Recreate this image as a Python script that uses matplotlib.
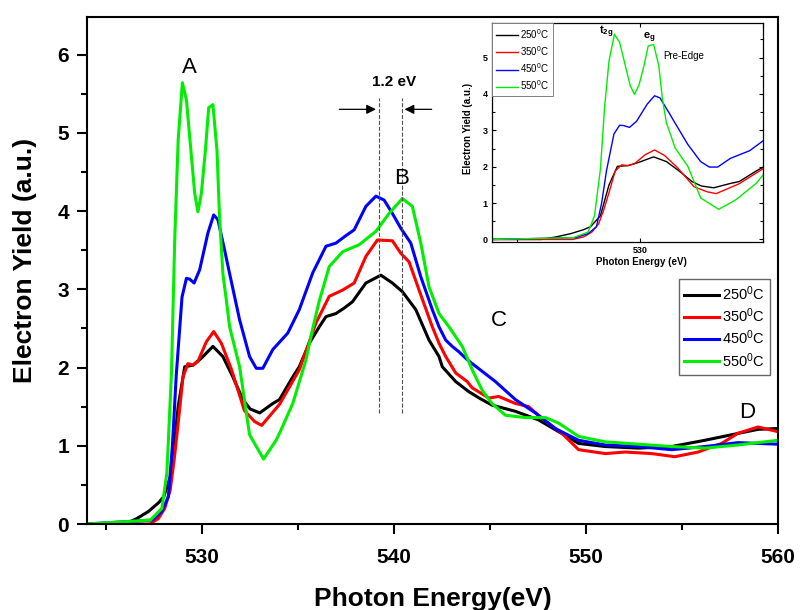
import matplotlib
matplotlib.use('Agg')
import matplotlib.pyplot as plt

plt.rcParams['font.family'] = ['Liberation Sans', 'DejaVu Sans']
plt.rcParams['mathtext.fontset'] = 'custom'
plt.rcParams['mathtext.rm'] = 'Liberation Sans'
plt.rcParams['mathtext.it'] = 'Liberation Sans:italic'
plt.rcParams['mathtext.bf'] = 'Liberation Sans:bold'

# spectra (photon energy in eV, electron yield in a.u.)
e250 = [524.0, 525.0, 526.0, 526.6, 527.2, 527.72, 528.0, 528.4, 528.75, 529.09, 529.52,
        529.96, 530.56, 531.08, 531.6, 532.12, 532.5, 533.0, 533.68, 534.03, 534.72,
        535.06, 535.58, 536.1, 536.45, 536.97, 537.4, 537.83, 538.53, 539.31, 539.91,
        540.43, 541.13, 541.82, 542.34, 542.51, 543.21, 543.9, 544.5, 545.1, 546.32,
        547.53, 548.57, 549.61, 551.0, 552.73, 554.46, 556.19, 557.57, 558.96, 560.0]
y250 = [0.0, 0.0, 0.0, 0.07, 0.16, 0.27, 0.35, 0.65, 1.50, 2.01, 2.03,
        2.12, 2.27, 2.14, 1.88, 1.59, 1.47, 1.42, 1.54, 1.59, 1.88,
        2.01, 2.31, 2.52, 2.65, 2.69, 2.76, 2.84, 3.08, 3.18, 3.08,
        2.97, 2.74, 2.35, 2.14, 2.01, 1.82, 1.69, 1.60, 1.52, 1.44,
        1.33, 1.18, 1.03, 0.99, 0.97, 0.99, 1.07, 1.14, 1.21, 1.22]

e350 = [524.0, 527.27, 527.72, 528.05, 528.33, 528.54, 528.75, 529.0, 529.26, 529.52,
        529.78, 530.22, 530.6, 531.0, 531.52, 532.2, 532.73, 533.1, 534.03, 535.06,
        535.93, 536.62, 537.32, 537.92, 538.53, 539.13, 539.91, 540.35, 540.78, 541.3,
        541.99, 542.34, 542.69, 543.21, 543.81, 544.07, 544.94, 545.45, 546.32, 547.01,
        547.7, 548.74, 549.61, 551.0, 552.04, 553.42, 554.63, 555.84, 557.06, 557.92,
        558.96, 560.0]
y350 = [0.0, 0.0, 0.07, 0.2, 0.43, 0.82, 1.29, 1.88, 2.05, 2.03,
        2.08, 2.33, 2.46, 2.31, 1.98, 1.45, 1.31, 1.26, 1.53, 1.97,
        2.57, 2.91, 2.99, 3.08, 3.42, 3.63, 3.62, 3.46, 3.35, 2.99,
        2.52, 2.31, 2.14, 1.93, 1.82, 1.74, 1.61, 1.63, 1.54, 1.50,
        1.35, 1.16, 0.95, 0.90, 0.92, 0.90, 0.86, 0.92, 1.03, 1.16,
        1.24, 1.18]

e450 = [524.0, 527.4, 527.9, 528.24, 528.45, 528.65, 528.83, 528.95, 529.18, 529.35,
        529.58, 529.87, 530.3, 530.6, 530.82, 531.17, 531.43, 531.95, 532.47, 532.82,
        533.16, 533.68, 534.46, 535.06, 535.76, 536.45, 536.97, 537.4, 537.92, 538.53,
        539.05, 539.48, 539.91, 540.35, 540.87, 541.39, 541.99, 542.34, 542.69, 543.03,
        543.38, 543.81, 544.07, 545.28, 546.32, 547.36, 548.4, 549.61, 551.0, 552.73,
        554.46, 556.19, 557.92, 560.0]
y450 = [0.0, 0.05, 0.16, 0.35, 1.0, 1.9, 2.5, 2.9, 3.14, 3.13,
        3.08, 3.25, 3.72, 3.95, 3.89, 3.50, 3.20, 2.61, 2.14, 1.99,
        1.99, 2.23, 2.44, 2.74, 3.21, 3.55, 3.59, 3.67, 3.76, 4.06,
        4.19, 4.14, 3.97, 3.78, 3.59, 3.16, 2.74, 2.52, 2.35, 2.27,
        2.20, 2.10, 2.05, 1.82, 1.59, 1.42, 1.22, 1.07, 1.01, 0.99,
        0.95, 0.99, 1.04, 1.02]

e550 = [524.0, 527.3, 527.9, 528.16, 528.24, 528.4, 528.57, 528.75, 528.97, 529.18,
        529.44, 529.61, 529.78, 529.96, 530.17, 530.34, 530.56, 530.77, 530.91, 531.08,
        531.26, 531.43, 531.95, 532.47, 533.2, 533.85, 534.03, 534.72, 535.41, 535.76,
        536.1, 536.62, 537.32, 538.18, 539.05, 539.74, 540.43, 540.95, 541.39, 541.82,
        542.34, 542.86, 543.55, 544.07, 544.59, 545.1, 545.8, 546.84, 547.88, 548.57,
        549.61, 551.0, 552.73, 554.46, 556.19, 557.92, 560.0]
y550 = [0.0, 0.05, 0.2, 0.65, 1.07, 1.93, 3.63, 4.91, 5.64, 5.42,
        4.70, 4.23, 3.99, 4.23, 4.78, 5.32, 5.36, 4.78, 3.90, 3.20,
        2.86, 2.52, 2.01, 1.14, 0.83, 1.07, 1.16, 1.54, 2.10, 2.50,
        2.85, 3.29, 3.48, 3.57, 3.74, 3.97, 4.16, 4.06, 3.59, 3.03,
        2.69, 2.52, 2.27, 1.97, 1.71, 1.54, 1.39, 1.36, 1.36, 1.29,
        1.12, 1.05, 1.02, 0.99, 0.97, 1.01, 1.07]

series = [(e250, y250, 'black', '250$^\\mathregular{0}$C'),
          (e350, y350, '#ff0000', '350$^\\mathregular{0}$C'),
          (e450, y450, '#0000ff', '450$^\\mathregular{0}$C'),
          (e550, y550, '#00ee00', '550$^\\mathregular{0}$C')]

peak_lines = [539.2, 540.4]
peak_labels = [('A', 529.35, 5.83), ('B', 540.4, 4.42), ('C', 545.45, 2.6), ('D', 558.4, 1.43)]

fig = plt.figure(figsize=(8, 6.1), dpi=100)
ax = fig.add_axes([87/800, 86/610, 691/800, 507/610])

for x, y, c, lab in series:
    ax.plot(x, y, color=c, lw=2.2, label=lab)

ax.set_xlim(524, 560)
ax.set_ylim(0, 6.48)
ax.set_xticks([530, 540, 550, 560])
ax.set_xticks([525, 535, 545, 555], minor=True)
ax.set_yticks([0, 1, 2, 3, 4, 5, 6])
ax.set_yticks([0.5, 1.5, 2.5, 3.5, 4.5, 5.5], minor=True)
ax.tick_params(which='major', direction='out', length=7, width=1.5, labelsize=15)
ax.tick_params(which='minor', direction='out', length=4.5, width=1.5)
ax.tick_params(axis='x', which='major', pad=10)
ax.tick_params(axis='y', which='major', pad=6)
for t in ax.get_xticklabels() + ax.get_yticklabels():
    t.set_fontweight('bold')
for s in ax.spines.values():
    s.set_linewidth(1.5)

ax.set_xlabel('Photon Energy(eV)', fontsize=19, fontweight='bold')
ax.set_ylabel('Electron Yield (a.u.)', fontsize=19, fontweight='bold')
ax.xaxis.set_label_coords(0.5, -0.124)
ax.yaxis.set_label_coords(-0.073, 0.52)

for v in peak_lines:
    ax.plot([v, v], [1.42, 5.45], ls='--', color='0.3', lw=0.8)
ax.annotate('', xy=(539.2, 5.3), xytext=(537.0, 5.3),
            arrowprops=dict(arrowstyle='-|>', color='black', lw=0.9, mutation_scale=14))
ax.annotate('', xy=(540.4, 5.3), xytext=(542.1, 5.3),
            arrowprops=dict(arrowstyle='-|>', color='black', lw=0.9, mutation_scale=14))
ax.text(540.0, 5.65, '1.2 eV', fontsize=11, fontweight='bold', ha='center', va='center')

for txt, x, y in peak_labels:
    ax.text(x, y, txt, fontsize=16, ha='center', va='center')

leg = ax.legend(loc='upper right', bbox_to_anchor=(0.988, 0.483), borderaxespad=0,
                fontsize=10.5, handlelength=2.4, handletextpad=0.2, labelspacing=0.25,
                borderpad=0.35, fancybox=False, framealpha=1, edgecolor='0.4')
leg.get_frame().set_linewidth(1.0)

# inset: zoom on the pre-edge
ax2 = fig.add_axes([492/800, 368/610, 271/800, 219/610])
for x, y, c, lab in series:
    ax2.plot(x, y, color=c, lw=1.0, label=lab)
ax2.set_xlim(524, 535)
ax2.set_ylim(-0.07, 5.95)
ax2.set_xticks([525, 530, 535])
ax2.set_xticklabels(['', '530', ''])
ax2.set_yticks([0, 1, 2, 3, 4, 5])
ax2.set_yticks([0.5, 1.5, 2.5, 3.5, 4.5, 5.5], minor=True)
ax2.tick_params(which='both', direction='in', top=True, right=True, width=0.8,
                labelsize=6.5, pad=3)
ax2.tick_params(which='major', length=3)
ax2.tick_params(which='minor', length=2)
for t in ax2.get_xticklabels() + ax2.get_yticklabels():
    t.set_fontweight('bold')
for s in ax2.spines.values():
    s.set_linewidth(0.9)
ax2.set_xlabel('Photon Energy (eV)', fontsize=7, fontweight='bold')
ax2.set_ylabel('Electron Yield (a.u.)', fontsize=7, fontweight='bold')
ax2.xaxis.set_label_coords(0.55, -0.07)
ax2.yaxis.set_label_coords(-0.07, 0.52)
ax2.text(528.65, 5.72, r'$\mathbf{t_{2g}}$', fontsize=8, ha='center', va='center')
ax2.text(530.4, 5.55, r'$\mathbf{e_{g}}$', fontsize=8, ha='center', va='center')
ax2.text(530.95, 5.05, 'Pre-Edge', fontsize=7, ha='left', va='center')
leg2 = ax2.legend(loc='upper left', borderaxespad=0, fontsize=7, handlelength=2.3,
                  handletextpad=0.2, labelspacing=0.35, borderpad=0.4,
                  fancybox=False, framealpha=1, edgecolor='0.5')
leg2.get_frame().set_linewidth(0.7)

fig.savefig('out.png', dpi=100)
